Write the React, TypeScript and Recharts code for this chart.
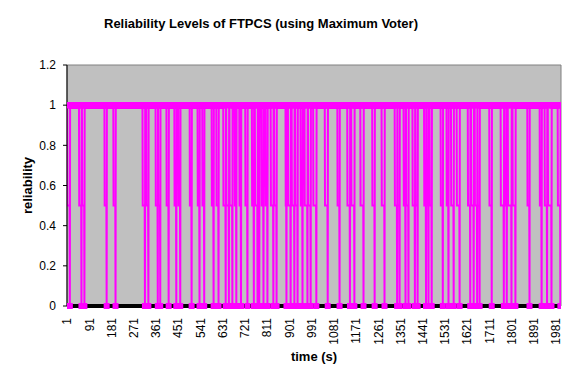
import { LineChart, Line, XAxis, YAxis, ReferenceArea, Label } from "recharts";

// time axis: one reading per second
const timeSpan = 2000;
const timeTicks = [1, 91, 181, 271, 361, 451, 541, 631, 721, 811, 901, 991, 1081, 1171, 1261, 1351, 1441, 1531, 1621, 1711, 1801, 1891, 1981];
const reliabilityTicks = [0, 0.2, 0.4, 0.6, 0.8, 1, 1.2];

// dips: reliability sits at 0.5 from dipStart, hits 0 at dipEnd, then back to 1
const dipStart = [2, 50, 62, 153, 189, 307, 322, 360, 370, 404, 436, 452, 498, 530, 549, 587, 606, 634, 646, 659, 680, 699, 723, 750, 762, 776, 789, 805, 826, 840, 886, 896, 911, 925, 947, 963, 977, 998, 1045, 1096, 1136, 1152, 1189, 1237, 1275, 1328, 1339, 1364, 1374, 1400, 1412, 1447, 1457, 1469, 1514, 1538, 1556, 1579, 1624, 1637, 1652, 1663, 1711, 1757, 1774, 1786, 1805, 1865, 1915, 1935, 1948, 1988];
const dipEnd = [12, 59, 71, 161, 197, 316, 330, 368, 378, 412, 443, 459, 505, 537, 556, 594, 614, 643, 656, 670, 686, 705, 731, 757, 772, 779, 796, 812, 836, 849, 889, 906, 921, 934, 954, 974, 987, 1010, 1056, 1104, 1146, 1164, 1201, 1246, 1286, 1337, 1347, 1371, 1383, 1409, 1420, 1454, 1464, 1477, 1522, 1545, 1566, 1590, 1633, 1647, 1661, 1671, 1720, 1769, 1781, 1800, 1816, 1873, 1922, 1944, 1962, 1998];

const levels: number[] = Array(timeSpan).fill(1);
dipStart.forEach((s, k) => {
  for (let t = s; t < dipEnd[k]; t++) levels[t - 1] = 0.5;
  levels[dipEnd[k] - 1] = 0;
});
const chartData = levels.map((level, i) => ({ t: i + 1, level }));

const font = "'Liberation Sans', Arial, sans-serif";
const magenta = "#FF00FF";

function SquareDot(props: any) {
  const { cx, cy, payload, index } = props;
  if (cx == null || cy == null || payload.level === 0.5) return <g key={`dot-${index}`} />;
  return <rect key={`dot-${index}`} x={cx - 3} y={cy - 3} width={6} height={6} fill={magenta} />;
}

function TimeTick({ x, y, payload }: any) {
  const ty = y + 4;
  return (
    <text x={x} y={ty} transform={`rotate(-90 ${x} ${ty})`} textAnchor="end" dy="0.35em" fontSize={12} fontFamily={font} fill="#000">
      {payload.value}
    </text>
  );
}

export default function App() {
  return (
    <div style={{ position: "absolute", left: 0, top: 0, width: 576, height: 384, background: "#fff" }}>
      <div
        style={{
          position: "absolute",
          left: 0,
          width: 522,
          top: 17,
          textAlign: "center",
          fontFamily: font,
          fontWeight: "bold",
          fontSize: 13,
          lineHeight: "14px",
        }}
      >
        Reliability Levels of FTPCS (using Maximum Voter)
      </div>
      <LineChart width={576} height={384} data={chartData} margin={{ top: 65, right: 15, bottom: 38, left: 0 }}>
        <ReferenceArea x1={0.5} x2={timeSpan + 0.5} y1={0} y2={1.2} fill="#C0C0C0" fillOpacity={1} stroke="#808080" strokeWidth={1} />
        <XAxis
          dataKey="t"
          type="number"
          domain={[0.5, timeSpan + 0.5]}
          ticks={timeTicks}
          interval={0}
          height={40}
          tickLine={false}
          axisLine={{ stroke: "#000", strokeWidth: 4 }}
          tick={<TimeTick />}
          allowDataOverflow
        >
          <Label value="time (s)" position="bottom" offset={6} style={{ fontFamily: font, fontWeight: "bold", fontSize: 13, fill: "#000" }} />
        </XAxis>
        <YAxis
          type="number"
          domain={[0, 1.2]}
          ticks={reliabilityTicks}
          width={67}
          tickSize={4}
          tickMargin={7}
          axisLine={{ stroke: "#000" }}
          tickLine={{ stroke: "#000" }}
          tick={{ fontSize: 12, fontFamily: font, fill: "#000" }}
        >
          <Label value="reliability" angle={-90} position="center" dx={-6} style={{ fontFamily: font, fontWeight: "bold", fontSize: 13, fill: "#000" }} />
        </YAxis>
        <Line
          type="linear"
          dataKey="level"
          stroke={magenta}
          strokeWidth={2}
          dot={(p: any) => <SquareDot {...p} key={`dot-${p.index}`} />}
          activeDot={false}
          isAnimationActive={false}
        />
      </LineChart>
    </div>
  );
}
